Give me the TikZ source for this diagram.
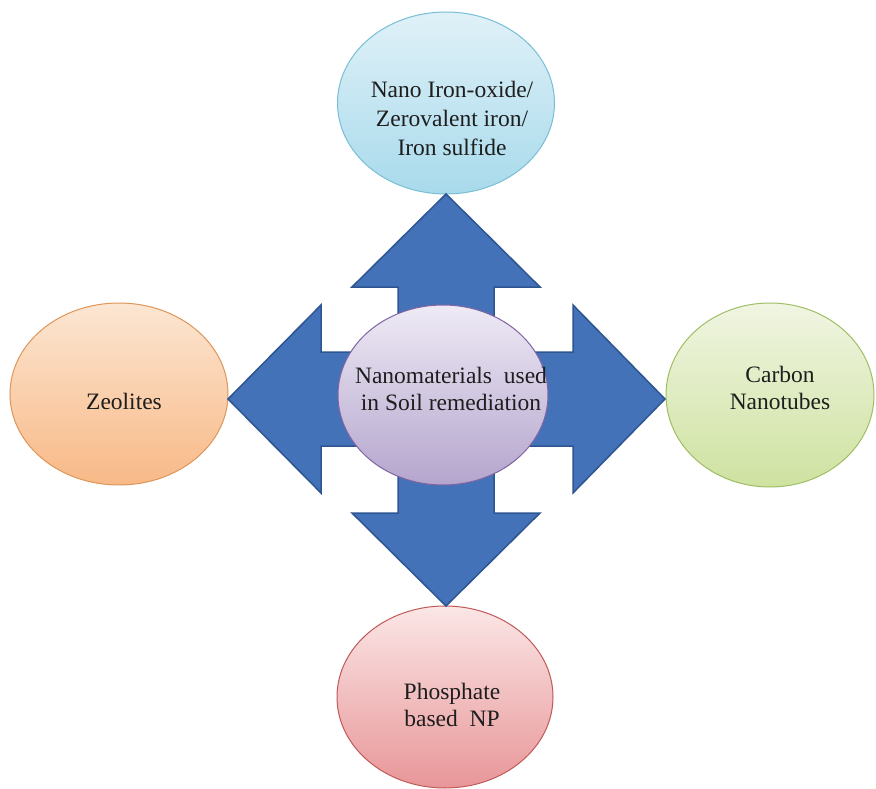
\documentclass[tikz,border=0pt]{standalone}
\usepackage{fontspec}
\setmainfont{Liberation Serif}
\newfontfamily\tnr{Liberation Serif}
\usetikzlibrary{shapes.geometric}
\definecolor{arrfill}{RGB}{68,114,184}
\definecolor{arrdraw}{RGB}{45,85,145}
\definecolor{txt}{RGB}{30,30,30}
\definecolor{topA}{RGB}{224,241,248}\definecolor{topB}{RGB}{168,218,235}\definecolor{topD}{RGB}{120,190,215}
\definecolor{lefA}{RGB}{252,230,210}\definecolor{lefB}{RGB}{248,185,135}\definecolor{lefD}{RGB}{222,150,90}
\definecolor{rigA}{RGB}{240,245,226}\definecolor{rigB}{RGB}{206,226,160}\definecolor{rigD}{RGB}{160,190,100}
\definecolor{botA}{RGB}{251,230,230}\definecolor{botB}{RGB}{232,150,152}\definecolor{botD}{RGB}{192,90,88}
\definecolor{cenA}{RGB}{238,234,245}\definecolor{cenB}{RGB}{180,165,205}\definecolor{cenD}{RGB}{128,100,162}
\tikzset{
  ell/.style={ellipse, inner sep=0pt, line width=1pt},
  lbl/.style={align=center, text=txt, inner sep=0pt, font=\tnr\fontsize{23.5}{26.5}\selectfont},
  quadarrow/.style={fill=arrfill, draw=arrdraw, line width=1.5pt, line join=miter}
}
\begin{document}
\begin{tikzpicture}[x=1pt,y=-1pt]
\useasboundingbox[fill=white] (0,0) rectangle (876,789);
% ellipses
\node[ell, minimum width=217pt, minimum height=182pt, top color=topA, bottom color=topB, draw=topD] (top) at (446,103) {};
\node[ell, minimum width=218pt, minimum height=182pt, top color=lefA, bottom color=lefB, draw=lefD] (left) at (119,394) {};
\node[ell, minimum width=208pt, minimum height=184pt, top color=rigA, bottom color=rigB, draw=rigD] (right) at (770,395) {};
\node[ell, minimum width=216pt, minimum height=182pt, top color=botA, bottom color=botB, draw=botD] (bottom) at (445,697) {};
% four-way arrow
\draw[quadarrow] (446,194) -- (540,287) -- (494,287) -- (494,352) -- (573,352) -- (573,305) -- (665,399)
  -- (573,493) -- (573,446) -- (494,446) -- (494,513) -- (540,513) -- (446,606) -- (352,513) -- (398,513)
  -- (398,446) -- (321,446) -- (321,493) -- (228,399) -- (321,305) -- (321,352) -- (398,352) -- (398,287)
  -- (352,287) -- cycle;
\node[ell, minimum width=210pt, minimum height=180pt, top color=cenA, bottom color=cenB, draw=cenD] (center) at (443,395) {};
% labels
\node[lbl, font=\tnr\fontsize{23.5}{29}\selectfont] (toptxt) at (452,118) {Nano Iron-oxide/\\Zerovalent iron/\\Iron sulfide};
\node[lbl] (lefttxt) at (124,401) {Zeolites};
\node[lbl] (righttxt) at (780,388) {Carbon\\Nanotubes};
\node[lbl] (centertxt) at (451,389) {Nanomaterials\ \ used\\in Soil remediation};
\node[lbl] (bottomtxt) at (452,705) {Phosphate\\based\ \ NP};
\end{tikzpicture}
\end{document}
